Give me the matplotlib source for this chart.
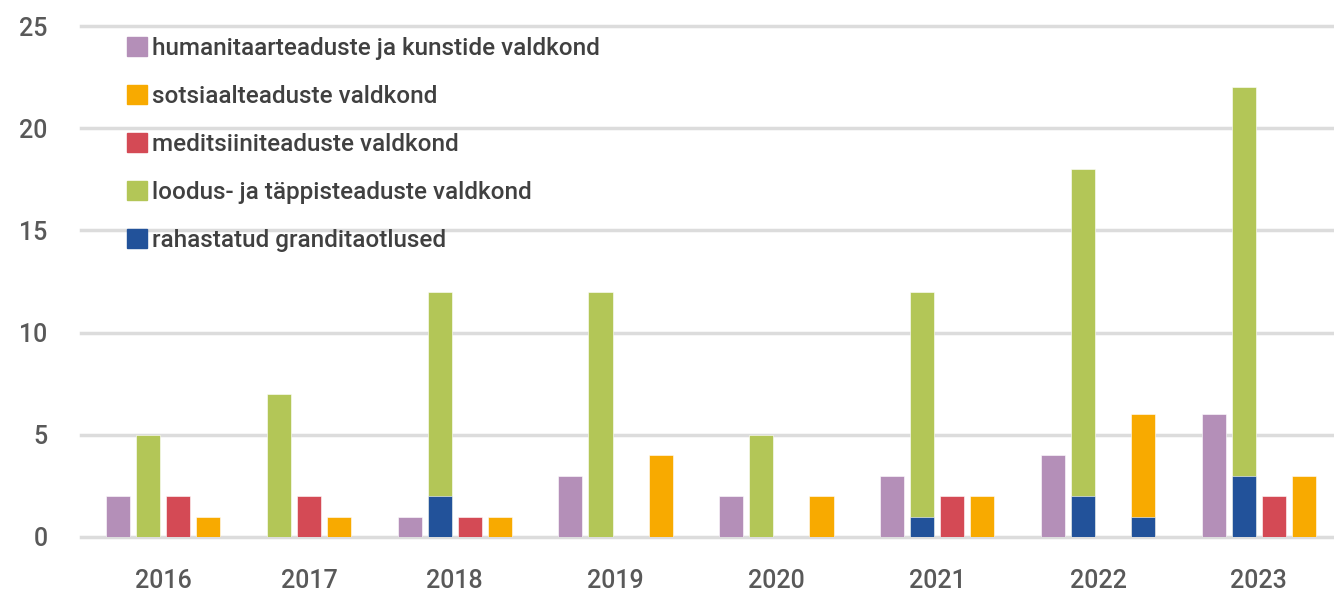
import matplotlib.pyplot as plt
from matplotlib.patches import Patch

years = ['2016', '2017', '2018', '2019', '2020', '2021', '2022', '2023']
# None = no bar slot for that year
humanitaar = [2, None, 1, 3, 2, 3, 4, 6]
loodus = [5, 7, 12, 12, 5, 12, 18, 22]
meditsiini = [2, 2, 1, 0, 0, 2, 0, 2]
sotsiaal = [1, 1, 1, 4, 2, 2, 6, 3]
rahastatud_loodus = [0, 0, 2, 0, 0, 1, 2, 3]
rahastatud_sotsiaal = [0, 0, 0, 0, 0, 0, 1, 0]

labels = ['humanitaarteaduste ja kunstide valdkond',
          'sotsiaalteaduste valdkond',
          'meditsiiniteaduste valdkond',
          'loodus- ja täppisteaduste valdkond',
          'rahastatud granditaotlused']
c_hum = '#B48FB8'
c_sots = '#F8AA00'
c_med = '#D44A55'
c_lood = '#B3C657'
c_raha = '#22529A'

plt.rcParams['font.family'] = ['Roboto', 'DejaVu Sans']

fig = plt.figure(figsize=(13.34, 5.93), dpi=100)
ax = fig.add_axes([81 / 1334, 56 / 593, 1 - 81 / 1334, 511 / 593])

bw = 0.8
gap = 2.343
x = 0.0
centers = []
for i in range(len(years)):
    series = [(humanitaar[i], c_hum, 0), (loodus[i], c_lood, rahastatud_loodus[i]),
              (meditsiini[i], c_med, 0), (sotsiaal[i], c_sots, rahastatud_sotsiaal[i])]
    xs = []
    for val, col, funded in series:
        if val is None:
            continue
        ax.bar(x, val, width=bw, color=col, edgecolor='white', linewidth=0.4, zorder=2)
        if funded:
            ax.bar(x, funded, width=bw, color=c_raha, edgecolor='white', linewidth=0.4, zorder=3)
        xs.append(x)
        x += 1
    centers.append((xs[0] + xs[-1]) / 2)
    x += gap - 1

ax.set_xlim(-1.23, 40.4)
ax.set_ylim(0, 25)
ax.set_yticks([0, 5, 10, 15, 20, 25])
ax.set_xticks(centers)
ax.set_xticklabels(years)
ax.tick_params(length=0, labelsize=18, labelcolor='#595959')
ax.tick_params(axis='y', pad=24)
ax.tick_params(axis='x', pad=23)
for t in ax.get_xticklabels() + ax.get_yticklabels():
    t.set_fontweight('medium')
for s in ax.spines.values():
    s.set_visible(False)
ax.yaxis.grid(True, color='#DCDCDC', linewidth=2.5)
ax.set_axisbelow(True)
for gl in ax.get_ygridlines():
    gl.set_clip_on(False)

handles = [Patch(color=c) for c in [c_hum, c_sots, c_med, c_lood, c_raha]]
leg = fig.legend(handles, labels, loc='upper left', bbox_to_anchor=(127 / 1334, 1 - 37 / 593),
                 frameon=False, fontsize=17.5, handlelength=0.82, handleheight=0.82,
                 handletextpad=0.22, labelspacing=1.03, borderpad=0, borderaxespad=0,
                 labelcolor='#404040')
for t in leg.get_texts():
    t.set_fontweight('medium')

plt.savefig('out.png', dpi=100)
